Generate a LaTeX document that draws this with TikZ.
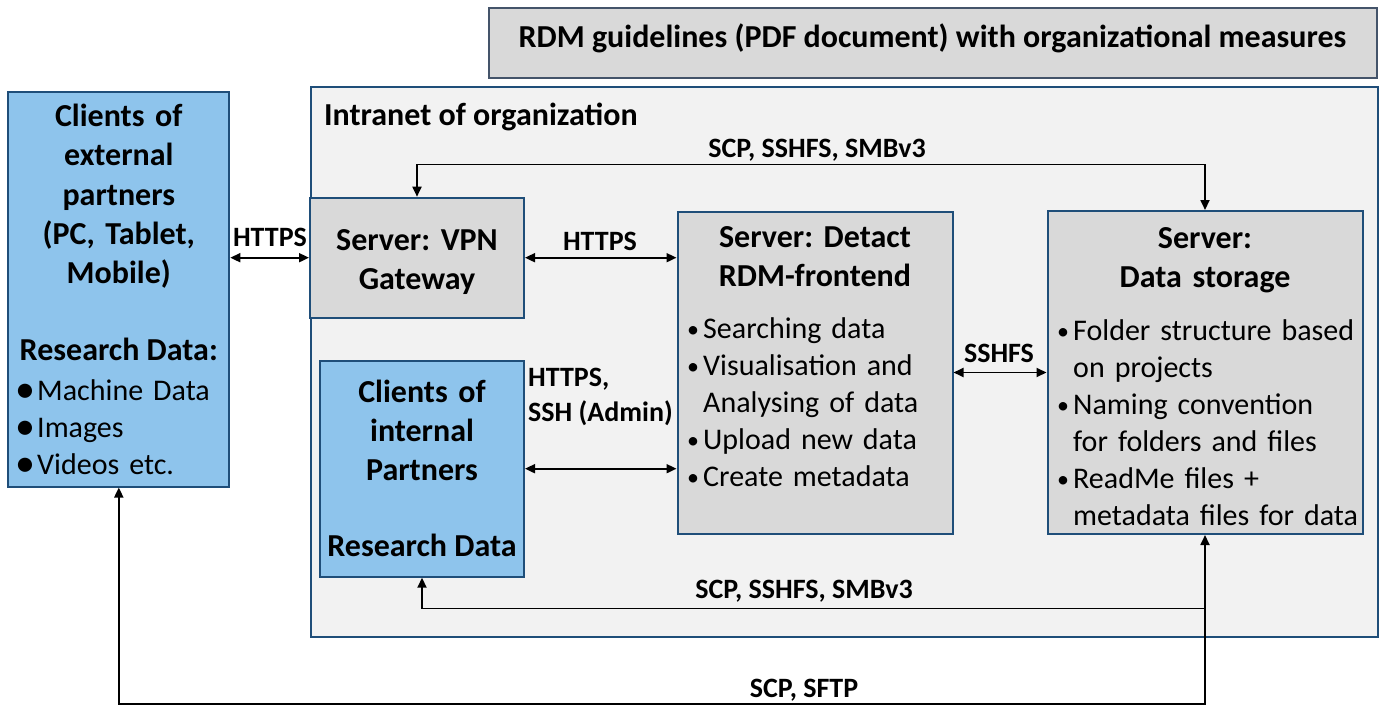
\documentclass[tikz,border=0pt]{standalone}
\usepackage{fontspec}
\setmainfont{Carlito}
\usetikzlibrary{arrows.meta}

\definecolor{frame}{RGB}{31,78,121}
\definecolor{titleframe}{RGB}{68,84,106}
\definecolor{clientblue}{RGB}{142,196,236}
\definecolor{servergray}{RGB}{217,217,217}
\definecolor{intranetgray}{RGB}{242,242,242}

\frenchspacing
\newcommand{\itm}{\makebox[18pt][l]{\hspace{2pt}\raisebox{1pt}{\fontsize{24}{0}\selectfont\textbullet}}}
\newcommand{\cnt}{\hspace*{18pt}}
\newcommand{\bigitm}{\makebox[22pt][l]{\raisebox{-2pt}{\fontsize{40}{0}\selectfont\textbullet}}}

\tikzset{
    clientbox/.style={draw=frame, fill=clientblue, line width=2pt, inner sep=0pt},
    serverbox/.style={draw=frame, fill=servergray, line width=2pt, inner sep=0pt},
    head/.style={font=\fontsize{32}{39}\selectfont\bfseries, align=center, inner sep=0pt, anchor=base},
    items/.style={font=\fontsize{30}{37}\selectfont, align=left, inner sep=0pt, anchor=base west},
    proto/.style={font=\fontsize{28}{35}\selectfont\bfseries, inner sep=0pt, anchor=base},
    link/.style={line width=1.8pt, >={Triangle[length=10pt,width=9pt]}}
}

\begin{document}
\begin{tikzpicture}[x=1pt, y=-1pt]
    \useasboundingbox (0,0) rectangle (1380,706);

    % RDM guidelines
    \node[draw=titleframe, fill=servergray, line width=2pt, minimum width=888pt, minimum height=70pt, inner sep=0pt] (guide) at (932.5,43.5) {};
    \node[head] (guidetxt) at (932.5,48) {RDM guidelines (PDF document) with organizational measures};

    % Intranet
    \node[draw=frame, fill=intranetgray, line width=2pt, minimum width=1067pt, minimum height=550pt, inner sep=0pt] (intranet) at (844,362) {};
    \node[head, anchor=base west] (intranettxt) at (324,125) {Intranet of organization};

    % external clients
    \node[clientbox, minimum width=221pt, minimum height=394pt] (ext) at (118.8,289.5) {};
    \node[head, text width=215pt] (exttxt) at (118.8,127) {Clients of\\external\\partners\\(PC, Tablet,\\Mobile)};
    \node[head] (extdata) at (118.8,360) {Research Data:};
    \node[items, text width=205pt] (extlist) at (15,400) {\bigitm Machine Data\\\bigitm Images\\\bigitm Videos etc.};

    % VPN gateway
    \node[serverbox, minimum width=214pt, minimum height=120pt] (vpn) at (417,257.7) {};
    \node[head, text width=210pt] (vpntxt) at (417,250) {Server: VPN\\Gateway};

    % internal clients
    \node[clientbox, minimum width=204pt, minimum height=216pt] (intern) at (422,468.7) {};
    \node[head, text width=200pt] (interntxt) at (422,402) {Clients of\\internal\\Partners};
    \node[head] (interndata) at (422,556.5) {Research Data};

    % RDM frontend
    \node[serverbox, minimum width=275pt, minimum height=322pt] (front) at (815,372.5) {};
    \node[head, text width=270pt] (fronttxt) at (815,247) {Server: Detact\\RDM-frontend};
    \node[items, text width=265pt] (frontlist) at (685,338) {\itm Searching data\\\itm Visualisation and\\\cnt Analysing of data\\\itm Upload new data\\\itm Create metadata};

    % data storage
    \node[serverbox, minimum width=315pt, minimum height=323pt] (store) at (1205,372.5) {};
    \node[head, text width=310pt] (storetxt) at (1205,248) {Server:\\Data storage};
    \node[items, text width=305pt] (storelist) at (1055,340) {\itm Folder structure based\\\cnt on projects\\\itm Naming convention\\\cnt for folders and files\\\itm ReadMe files +\\\cnt metadata files for data};

    % rails
    \coordinate (toprail) at (0,164.5);
    \coordinate (innerrail) at (0,608.5);
    \coordinate (outerrail) at (0,704);

    % connectors
    \draw[link, <->] (vpn.west) -- (vpn.west -| ext.east);
    \draw[link, <->] (vpn.east) -- (vpn.east -| front.west);
    \draw[link, <->] (front.east) -- (store.west);
    \draw[link, <->] (intern.east) -- (intern.east -| front.west);
    \draw[link, <->] (vpn.north) -- (vpn.north |- toprail) -| (store.north);
    \draw[link, <->] (ext.south) -- (ext.south |- outerrail) -| (store.south);
    \draw[link, ->] (store.south |- innerrail) -| (intern.south);

    % protocol labels
    \node[proto] (httpsext) at (270,246.5) {HTTPS};
    \node[proto] (httpsvpn) at (600,250) {HTTPS};
    \node[proto] (sshfs) at (999,362.5) {SSHFS};
    \node[proto, anchor=base west, align=left] (httpsint) at (528,421) {HTTPS,\\SSH (Admin)};
    \node[proto] (scptop) at (817,157.5) {SCP, SSHFS, SMBv3};
    \node[proto] (scpinner) at (804,598) {SCP, SSHFS, SMBv3};
    \node[proto] (scpouter) at (804,697) {SCP, SFTP};
\end{tikzpicture}
\end{document}
